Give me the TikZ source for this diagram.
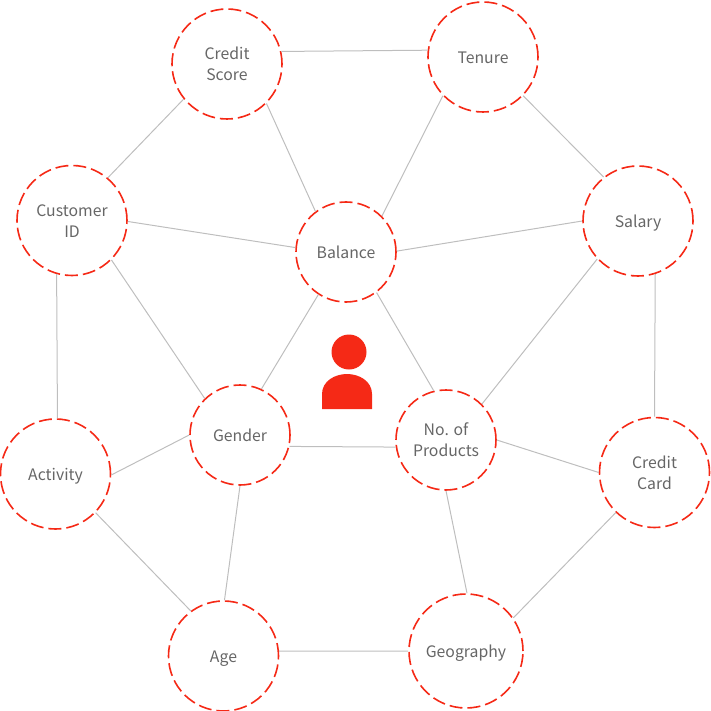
\documentclass[tikz,border=0pt]{standalone}
\usepackage{fontspec}
\setmainfont{Noto Sans CJK KR}
\definecolor{fgred}{RGB}{245,41,22}
\definecolor{fggray}{RGB}{190,190,190}
\definecolor{fgtext}{RGB}{102,102,102}
\usetikzlibrary{positioning}
\tikzset{
  feature/.style={draw=fgred, circle, line width=1.6pt, dash pattern=on 13pt off 5pt, inner sep=0pt, align=center, text=fgtext, font=\fontsize{15.8}{21}\selectfont, minimum size=110pt,
    execute at begin node={\rule{0pt}{17pt}}, execute at end node={\rule[-4.4pt]{0pt}{4.4pt}}},
  twoline/.style={execute at begin node={\rule{0pt}{38pt}}},
  link/.style={fggray, line width=1pt}
}

\begin{document}
\begin{tikzpicture}[x=1pt,y=-1pt]
  \useasboundingbox (0,0) rectangle (710,711);

  % Feature circles
  \node[feature, twoline] (credit) at (227,64) {Credit\\Score};
  \node[feature] (tenure) at (483,57) {Tenure};
  \node[feature, twoline] (custid) at (72,220.5) {Customer\\ID};
  \node[feature, minimum size=100pt] (balance) at (346,252) {Balance};
  \node[feature] (salary) at (638,221) {Salary};
  \node[feature, minimum size=100pt] (gender) at (240,435) {Gender};
  \node[feature, twoline, minimum size=100pt] (products) at (446,440) {No. of\\Products};
  \node[feature] (activity) at (55.5,474) {Activity};
  \node[feature, twoline] (card) at (654.5,472.5) {Credit\\Card};
  \node[feature] (age) at (223.5,656) {Age};
  \node[feature, minimum size=114pt] (geo) at (466,651) {Geography};

  % Links between circles
  \draw[link] (credit.13.7) -- (tenure.173.7);
  \draw[link] (credit.219.7) -- (custid.50);
  \draw[link] (credit.-45) -- (balance.127.5);
  \draw[link] (tenure.224) -- (balance.45.8);
  \draw[link] (tenure.-44) -- (salary.128);
  \draw[link] (custid.-1) -- (balance.175);
  \draw[link] (balance.1) -- (salary.180);
  \draw[link] (custid.-45) -- (gender.134);
  \draw[link] (custid.254) -- (activity.88.5);
  \draw[link] (balance.237) -- (gender.65);
  \draw[link] (balance.-53) -- (products.104);
  \draw[link] (salary.223.5) -- (products.45);
  \draw[link] (salary.-72.5) -- (card.90);
  \draw[link] (gender.180) -- (activity.-1);
  \draw[link] (gender.-13.5) -- (products.188);
  \draw[link] (products.0) -- (card.180);
  \draw[link] (gender.-90) -- (age.89);
  \draw[link] (products.-90) -- (geo.89);
  \draw[link] (card.226) -- (geo.35.5);
  \draw[link] (activity.-44) -- (age.126);
  \draw[link] (age.5.2) -- (geo.180);

  % Person icon
  \fill[fgred] (349,352) circle (17.5);
  \fill[fgred] (322,409) -- (322,394) .. controls (322,381) and (335,374) .. (347,374) .. controls (359,374) and (372,381) .. (372,394) -- (372,409) -- cycle;
\end{tikzpicture}
\end{document}
